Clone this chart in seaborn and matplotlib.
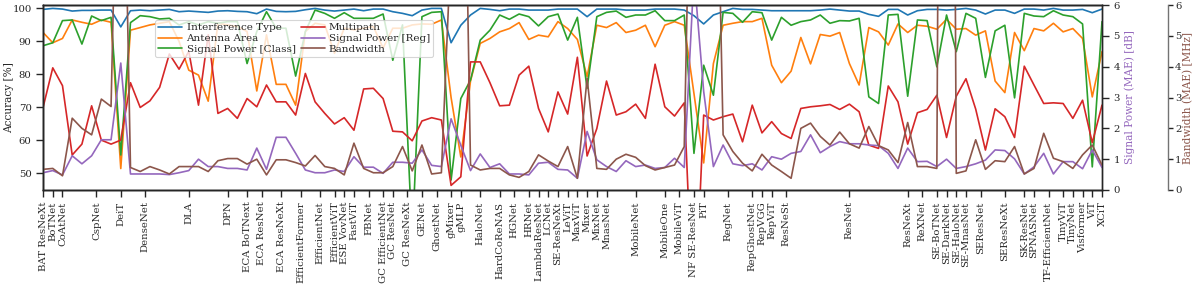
import numpy as np
import matplotlib
matplotlib.use('Agg')
import matplotlib.pyplot as plt
import seaborn as sns

# ─── Data (one point per model, models sorted by family) ─────────────────────
interference = [
    99.7, 100.0, 99.8, 99.2, 99.4, 99.4, 99.5, 99.5, 94.4, 99.3,
    99.5, 99.3, 99.5, 99.7, 99.0, 99.2, 99.0, 98.8, 99.2, 99.3,
    99.1, 99.0, 98.4, 99.8, 99.1, 99.0, 99.1, 99.6, 100.0, 99.5,
    99.2, 99.5, 99.8, 99.3, 99.8, 99.8, 99.0, 98.5, 97.8, 99.5,
    100.0, 100.0, 89.6, 94.9, 98.0, 100.0, 99.7, 99.3, 99.8, 99.8,
    99.5, 99.5, 99.5, 99.8, 99.8, 99.8, 97.5, 99.8, 99.8, 99.8,
    99.5, 99.5, 99.5, 99.8, 99.8, 99.8, 99.5, 97.8, 95.3, 98.0,
    99.0, 100.0, 99.7, 99.7, 99.5, 99.3, 99.3, 99.3, 99.3, 99.3,
    99.5, 99.8, 99.5, 99.2, 99.2, 98.2, 97.6, 99.7, 99.7, 98.0,
    99.3, 99.7, 99.7, 99.5, 99.7, 100.0, 99.5, 98.3, 99.5, 99.5,
    98.5, 99.8, 99.8, 99.5, 100.0, 99.5, 99.5, 99.7, 98.7, 99.8,
]
antenna = [
    92.7, 89.6, 90.9, 96.5, 95.8, 95.2, 96.5, 95.8, 51.5, 93.4,
    94.2, 95.0, 95.5, 96.0, 90.0, 81.3, 79.8, 71.9, 95.5, 95.0,
    94.5, 93.0, 75.0, 92.0, 77.0, 77.0, 70.7, 93.0, 95.5, 95.0,
    86.4, 94.0, 93.5, 94.0, 94.5, 88.0, 94.0, 94.0, 95.0, 95.3,
    95.2, 96.5, 73.0, 55.0, 78.0, 89.4, 90.9, 92.9, 93.9, 95.7,
    90.6, 91.9, 91.4, 96.0, 93.9, 90.6, 79.3, 94.9, 94.2, 95.7,
    92.7, 93.4, 94.9, 88.4, 94.9, 96.0, 94.9, 74.2, 53.2, 83.3,
    94.9, 95.5, 96.0, 96.0, 97.0, 82.8, 77.5, 81.0, 91.2, 83.2,
    92.1, 91.6, 92.7, 83.3, 76.8, 94.2, 92.9, 88.9, 95.3, 92.7,
    94.9, 94.6, 93.7, 96.7, 93.7, 93.9, 91.9, 93.2, 78.0, 74.5,
    92.7, 87.2, 93.9, 93.2, 95.5, 92.9, 93.9, 90.9, 73.2, 86.9,
]
power_class = [
    88.7, 89.6, 96.3, 96.5, 89.2, 97.7, 96.3, 97.3, 55.6, 95.7,
    97.8, 97.5, 96.8, 97.0, 95.0, 96.0, 95.0, 96.0, 95.5, 96.0,
    96.0, 83.3, 93.0, 99.0, 94.0, 94.0, 79.5, 93.0, 99.5, 98.5,
    97.0, 98.7, 97.0, 97.0, 97.0, 98.3, 84.3, 95.0, 30.0, 97.5,
    98.8, 99.0, 48.0, 72.7, 78.3, 90.4, 93.4, 98.0, 96.7, 98.3,
    97.5, 94.7, 97.5, 98.3, 90.4, 97.3, 75.8, 97.5, 98.8, 99.2,
    97.3, 98.0, 98.0, 99.3, 96.3, 96.3, 98.0, 56.1, 82.8, 73.7,
    98.8, 98.5, 95.8, 99.0, 98.7, 90.4, 97.3, 94.9, 96.0, 96.5,
    98.0, 95.5, 96.3, 96.2, 97.0, 73.2, 71.2, 98.0, 98.2, 73.4,
    96.5, 96.3, 82.3, 98.0, 86.9, 98.5, 97.0, 79.1, 93.2, 94.9,
    72.9, 98.5, 97.7, 97.5, 99.3, 98.0, 97.5, 95.3, 52.0, 96.0,
]
multipath = [
    70.0, 82.0, 76.6, 55.6, 58.9, 70.5, 60.1, 58.9, 60.1, 77.5,
    70.0, 72.0, 76.1, 86.2, 81.6, 87.0, 70.7, 92.0, 68.2, 69.7,
    66.7, 72.7, 70.2, 76.8, 71.7, 71.7, 67.7, 80.3, 71.7, 68.2,
    65.0, 66.9, 63.1, 75.6, 75.8, 72.7, 62.8, 62.6, 59.9, 65.9,
    66.9, 66.2, 46.4, 49.0, 83.8, 83.8, 77.5, 70.5, 70.7, 79.8,
    82.5, 69.7, 62.6, 74.7, 68.0, 85.2, 55.3, 63.6, 78.0, 67.7,
    68.7, 71.0, 66.7, 83.1, 70.2, 67.4, 71.4, 2.0, 67.7, 66.2,
    67.2, 68.0, 59.6, 70.7, 62.3, 65.7, 62.1, 60.6, 69.7, 70.2,
    70.5, 70.9, 69.4, 71.0, 68.7, 58.6, 57.6, 76.5, 71.7, 58.9,
    68.4, 69.4, 73.7, 60.9, 73.4, 78.7, 69.5, 57.1, 69.6, 67.2,
    60.9, 82.5, 76.8, 71.2, 71.4, 71.2, 66.7, 72.2, 59.3, 70.7,
]
power_reg_db = [
    0.56, 0.63, 0.49, 1.11, 0.85, 1.11, 1.63, 1.63, 4.12, 0.52,
    0.52, 0.52, 0.52, 0.50, 0.56, 0.63, 1.00, 0.76, 0.76, 0.70,
    0.70, 0.65, 1.36, 0.67, 1.71, 1.71, 1.19, 0.65, 0.56, 0.56,
    0.65, 0.60, 1.08, 0.74, 0.74, 0.54, 0.90, 0.90, 0.87, 1.30,
    0.80, 0.76, 2.31, 1.45, 0.63, 1.17, 0.73, 0.85, 0.52, 0.52,
    0.49, 0.87, 0.90, 0.67, 0.65, 0.38, 1.90, 0.98, 0.76, 0.60,
    0.95, 0.76, 0.81, 0.70, 0.73, 1.03, 0.73, 7.00, 3.20, 0.76,
    1.46, 0.85, 0.79, 0.85, 0.65, 1.08, 1.00, 1.19, 1.25, 1.79,
    1.21, 1.41, 1.57, 1.50, 1.50, 1.46, 1.44, 1.19, 0.70, 1.36,
    0.92, 0.93, 0.76, 1.00, 0.70, 0.76, 0.85, 0.97, 1.30, 1.28,
    1.01, 0.52, 0.75, 1.19, 0.52, 0.92, 0.92, 0.69, 1.30, 0.73,
]
bandwidth_mhz = [
    0.67, 0.70, 0.46, 2.33, 2.00, 1.79, 2.95, 2.71, 17.0, 0.73,
    0.60, 0.76, 0.65, 0.52, 0.76, 0.76, 0.76, 0.60, 0.95, 1.02,
    1.02, 0.84, 1.00, 0.49, 0.98, 0.98, 0.89, 0.78, 1.12, 0.76,
    0.70, 0.49, 1.52, 0.70, 0.56, 0.56, 0.76, 1.41, 0.62, 1.46,
    0.52, 0.56, 8.00, 19.0, 0.81, 0.65, 0.70, 0.70, 0.49, 0.41,
    0.60, 1.14, 0.94, 0.76, 1.41, 0.38, 3.63, 0.70, 0.67, 1.00,
    1.16, 1.06, 0.79, 0.65, 0.73, 0.81, 1.41, 17.0, 17.0, 17.0,
    1.79, 1.25, 0.87, 0.62, 1.16, 0.81, 0.60, 0.38, 2.00, 2.17,
    1.74, 1.46, 1.88, 1.50, 1.36, 2.06, 1.44, 1.30, 0.89, 2.19,
    0.76, 0.76, 0.70, 60.0, 0.54, 0.62, 1.63, 0.67, 0.95, 0.92,
    1.41, 0.52, 0.70, 1.84, 1.03, 0.92, 0.70, 1.14, 1.46, 0.81,
]

# family labels and where they sit on the model axis
family_labels = [
    'BAT ResNeXt', 'BoTNet', 'CoAtNet', 'CspNet', 'DeiT', 'DenseNet', 'DLA',
    'DPN', 'ECA BoTNext', 'ECA ResNet', 'ECA ResNeXt', 'EfficientFormer',
    'EfficientNet', 'EfficientViT', 'ESE VovNet', 'FastViT', 'FBNet',
    'GC EfficientNet', 'GC ResNet', 'GC ResNeXt', 'GENet', 'GhostNet',
    'gMixer', 'gMLP', 'HaloNet', 'HardCoReNAS', 'HGNet', 'HRNet',
    'LambdaResNet', 'LCNet', 'SE-ResNeXt', 'LeViT', 'MaxViT', 'Mixer',
    'MixNet', 'MnasNet', 'MobileNet', 'MobileOne', 'MobileViT',
    'NF SE-ResNet', 'PiT', 'RegNet', 'RepGhostNet', 'RepVGG', 'RepViT',
    'ResNeSt', 'ResNet', 'ResNeXt', 'ReXNet', 'SE-BoTNet', 'SE-DarkNet',
    'SE-HaloNet', 'SE-MnasNet', 'SEResNet', 'SEResNeXt', 'SK-ResNet',
    'SPNASNet', 'TF-EfficientNet', 'TinyViT', 'TinyNet', 'Visformer',
    'ViT', 'XCiT',
]
family_pos = [
    0, 1, 2, 5.5, 8, 10.5, 15, 19, 21, 22.5, 24.5, 26.5, 28.5, 30, 31, 32,
    33.5, 35, 36, 37.5, 39, 40.5, 42, 43, 45, 47, 48.5, 50, 51, 52, 53, 54,
    55, 56, 57, 58, 61, 64, 65.5, 67, 68, 70.5, 73, 74, 75, 76.5, 83, 89,
    90.5, 92, 93, 94, 95, 96.5, 99, 101, 102, 103.5, 105, 106, 107, 108, 109,
]

model_idx = np.arange(len(interference))
pal = sns.color_palette('tab10')

# ─── Style ───────────────────────────────────────────────────────────────────
sns.set_theme(context='paper', style='ticks', palette='tab10')
plt.rcParams['font.family'] = ['DejaVu Serif']

fig, ax = plt.subplots(figsize=(11.96, 2.84), dpi=100)
fig.subplots_adjust(left=0.036, right=0.9214, top=0.982, bottom=0.331)
ax2 = ax.twinx()
ax3 = ax.twinx()
ax3.spines['right'].set_position(('outward', 47.5))

# ─── Accuracy series (left axis) ─────────────────────────────────────────────
acc_series = [
    ('Interference Type', interference, pal[0]),
    ('Antenna Area', antenna, pal[1]),
    ('Signal Power [Class]', power_class, pal[2]),
    ('Multipath', multipath, pal[3]),
]
for name, vals, col in acc_series:
    sns.lineplot(x=model_idx, y=vals, ax=ax, color=col, label=name,
                 legend=False, linewidth=1.2)

# ─── Regression errors (right axes) ─────────────────────────────────────────
sns.lineplot(x=model_idx, y=power_reg_db, ax=ax2, color=pal[4],
             label='Signal Power [Reg]', legend=False, linewidth=1.2)
sns.lineplot(x=model_idx, y=bandwidth_mhz, ax=ax3, color=pal[5],
             label='Bandwidth', legend=False, linewidth=1.2)

TICK_FS = 7.3
LABEL_FS = 7.6

ax.set_xlim(0, len(model_idx) - 1)
ax.set_ylim(45, 101)
ax.set_yticks([50, 60, 70, 80, 90, 100])
ax.set_ylabel('Accuracy [%]', fontsize=LABEL_FS)
ax.yaxis.set_label_coords(-0.0275, 0.5)
ax.set_xlabel('')
ax.set_xticks(family_pos)
ax.set_xticklabels(family_labels, rotation=90, fontsize=TICK_FS)
ax.tick_params(axis='y', labelsize=TICK_FS)

for a, lab, col in [(ax2, 'Signal Power (MAE) [dB]', pal[4]),
                    (ax3, 'Bandwidth (MAE) [MHz]', pal[5])]:
    a.set_ylim(0, 6)
    a.set_yticks(range(0, 7))
    a.set_ylabel(lab, color=col, fontsize=LABEL_FS, labelpad=3)
    a.tick_params(axis='y', labelsize=TICK_FS)
ax3.spines['right'].set_color('0.45')
ax3.tick_params(axis='y', pad=1.5, length=3.5)
ax3.set_ylabel('Bandwidth (MAE) [MHz]', color=pal[5], fontsize=LABEL_FS,
               labelpad=1)

handles = ax.get_lines() + ax2.get_lines() + ax3.get_lines()
labels = [h.get_label() for h in handles]
ax3.legend(handles, labels, ncol=2, loc='upper left',
           bbox_to_anchor=(0.106, 0.92), borderaxespad=0,
           fontsize=7.5, labelspacing=0.15, columnspacing=0.5,
           handlelength=2.3, handletextpad=0.4, borderpad=0.3)

plt.savefig('out.png', dpi=100)
plt.close()
